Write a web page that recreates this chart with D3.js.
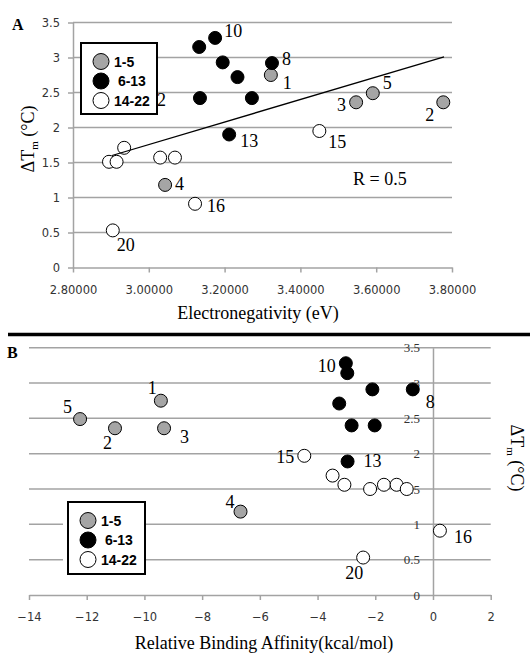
<!DOCTYPE html>
<html>
<head>
<meta charset="utf-8">
<script src="https://cdn.jsdelivr.net/npm/d3@7.9.0/dist/d3.min.js"></script>
<style>
  body { margin: 0; background: #fff; }
  svg { display: block; }
</style>
</head>
<body>
<script>
// ---- Panel A data: electronegativity (eV) vs dTm ----
const aGrayX = [3.322, 3.777, 3.547, 3.043, 3.591];
const aGrayY = [2.75, 2.36, 2.36, 1.18, 2.49];
const aGrayLab = ["1", "2", "3", "4", "5"];

const aBlackX = [3.325, 3.175, 3.133, 3.195, 3.234, 3.135, 3.272, 3.212];
const aBlackY = [2.92, 3.28, 3.15, 2.93, 2.72, 2.42, 2.42, 1.90];
const aBlackLab = ["8", "10", "", "", "", "12", "", "13"];

const aOpenX = [3.450, 2.935, 2.895, 2.915, 3.030, 3.069, 3.122, 2.905];
const aOpenY = [1.95, 1.71, 1.51, 1.51, 1.57, 1.57, 0.91, 0.53];
const aOpenLab = ["15", "", "", "", "", "", "16", "20"];

const trendX = [2.903, 3.779];
const trendY = [1.60, 3.01];

const aXTicks = [2.8, 3.0, 3.2, 3.4, 3.6, 3.8];
const aYTicks = [0, 0.5, 1, 1.5, 2, 2.5, 3, 3.5];

// ---- Panel B data: relative binding affinity (kcal/mol) vs dTm ----
const bGrayX = [-9.43, -11.02, -9.32, -6.67, -12.23];
const bGrayY = [2.75, 2.36, 2.36, 1.18, 2.49];
const bGrayLab = ["1", "2", "3", "4", "5"];

const bBlackX = [-0.70, -3.02, -2.97, -2.10, -3.25, -2.82, -2.02, -2.96];
const bBlackY = [2.91, 3.28, 3.14, 2.91, 2.71, 2.40, 2.40, 1.89];
const bBlackLab = ["8", "10", "", "", "", "", "", "13"];

const bOpenX = [-4.46, -3.48, -3.07, -2.18, -1.70, -1.26, -0.91, 0.24, -2.42];
const bOpenY = [1.97, 1.69, 1.56, 1.50, 1.56, 1.56, 1.50, 0.91, 0.53];
const bOpenLab = ["15", "", "", "", "", "", "", "16", "20"];

const bXTicks = [-14, -12, -10, -8, -6, -4, -2, 0, 2];
const bYTicks = [0, 0.5, 1, 1.5, 2, 2.5, 3, 3.5];

const legendNames = ["1-5", " 6-13", "14-22"];
const groupFill = ["#a5a5a5", "#000", "#fff"];

// label offsets (dx, dy) from the point centre
const offA = {"1": [12, 14], "2": [-18, 19], "3": [-19, 9], "4": [10, 5], "5": [10, -4],
  "8": [10, 2], "10": [9, -1], "12": [-52, 8], "13": [11, 12], "15": [9, 17], "16": [12, 8], "20": [4, 21]};
const offB = {"1": [-13, -7], "2": [-12, 21], "3": [16, 15], "4": [-15, -4], "5": [-17, -6],
  "8": [13, 19], "10": [-28, 9], "13": [16, 6], "15": [-28, 7], "16": [14, 12], "20": [-18, 21]};

const W = 530, H = 656;
const serif = "'Liberation Serif', 'Times New Roman', serif";
const sans = "'DejaVu Sans', sans-serif";
const gridColor = "#a3a3a3";

const svg = d3.select("body").append("svg")
  .attr("width", W)
  .attr("height", H);

function zip(xs, ys, labs) {
  return xs.map((x, i) => ({x: x, y: ys[i], lab: labs[i]}));
}

function drawPanel(opt) {
  const x = opt.x, y = opt.y;
  const g = svg.append("g");

  // gridlines
  g.selectAll("line.grid")
    .data(opt.yTicks.filter(d => d > 0))
    .enter().append("line")
    .attr("x1", x.range()[0]).attr("x2", x.range()[1])
    .attr("y1", d => y(d)).attr("y2", d => y(d))
    .attr("stroke", gridColor)
    .attr("stroke-width", 1.5);

  // x axis
  const xa = g.append("g")
    .attr("transform", `translate(0,${y(0)})`)
    .call(d3.axisBottom(x).tickValues(opt.xTicks).tickFormat(opt.xFmt)
      .tickSize(5).tickSizeOuter(0).tickPadding(13));
  xa.select(".domain").attr("stroke", gridColor).attr("stroke-width", 1.5);
  xa.selectAll(".tick line").attr("stroke", gridColor).attr("stroke-width", 1.5);
  xa.selectAll("text").attr("font-family", sans).attr("font-size", 11.5).attr("fill", "#333");

  // y axis
  const ya = g.append("g")
    .attr("transform", `translate(${x(opt.yAxisAt)},0)`)
    .call(d3.axisLeft(y).tickValues(opt.yTicks).tickFormat(d3.format("~g"))
      .tickSize(opt.yTickSize).tickSizeOuter(0).tickPadding(opt.yPad));
  ya.select(".domain").attr("stroke", gridColor).attr("stroke-width", 1.5);
  ya.selectAll(".tick line").attr("stroke", gridColor).attr("stroke-width", 1.5);
  ya.selectAll("text").attr("font-family", opt.yFont).attr("font-size", opt.yFontSize).attr("fill", "#333");

  return g;
}

function drawPoints(g, x, y, pts, fill) {
  g.append("g").selectAll("circle")
    .data(pts)
    .enter().append("circle")
    .attr("cx", d => x(d.x))
    .attr("cy", d => y(d.y))
    .attr("r", 6.5)
    .attr("fill", fill)
    .attr("stroke", "#000")
    .attr("stroke-width", 1);
}

function drawLabels(g, x, y, pts, off) {
  g.append("g").selectAll("text")
    .data(pts.filter(d => d.lab !== ""))
    .enter().append("text")
    .attr("x", d => x(d.x) + off[d.lab][0])
    .attr("y", d => y(d.y) + off[d.lab][1])
    .attr("font-family", serif)
    .attr("font-size", 18)
    .text(d => d.lab);
}

function drawLegend(g, left, top, w, h, padL, padR) {
  g.append("rect")
    .attr("x", left - padL).attr("y", top)
    .attr("width", w + padL + padR).attr("height", h)
    .attr("fill", "#fff");
  g.append("rect")
    .attr("x", left).attr("y", top)
    .attr("width", w).attr("height", h)
    .attr("fill", "#fff")
    .attr("stroke", "#000")
    .attr("stroke-width", 2);
  legendNames.forEach((name, i) => {
    const cy = top + 18.5 + i * 19.5;
    g.append("circle")
      .attr("cx", left + 20).attr("cy", cy).attr("r", 8)
      .attr("fill", groupFill[i]).attr("stroke", "#000").attr("stroke-width", 1);
    g.append("text")
      .attr("x", left + 33).attr("y", cy + 5)
      .attr("font-family", "'Liberation Sans', Arial, sans-serif")
      .attr("font-weight", "bold")
      .attr("font-size", 14)
      .attr("xml:space", "preserve")
      .style("white-space", "pre")
      .text(name);
  });
}

// ================= Panel A =================
const xA = d3.scaleLinear().domain([2.8, 3.8]).range([73, 452]);
const yA = d3.scaleLinear().domain([0, 3.5]).range([267.5, 22.5]);

const gA = drawPanel({x: xA, y: yA, xTicks: aXTicks, yTicks: aYTicks, xFmt: d3.format(".5f"),
  yAxisAt: 2.8, yTickSize: 5, yPad: 8, yFont: sans, yFontSize: 11.5});

const ptsAg = zip(aGrayX, aGrayY, aGrayLab);
const ptsAb = zip(aBlackX, aBlackY, aBlackLab);
const ptsAo = zip(aOpenX, aOpenY, aOpenLab);

drawPoints(gA, xA, yA, ptsAg, groupFill[0]);
drawPoints(gA, xA, yA, ptsAb, groupFill[1]);
drawPoints(gA, xA, yA, ptsAo, groupFill[2]);

// trend line
gA.append("line")
  .attr("x1", xA(trendX[0])).attr("y1", yA(trendY[0]))
  .attr("x2", xA(trendX[1])).attr("y2", yA(trendY[1]))
  .attr("stroke", "#000").attr("stroke-width", 1.3);

// labels first so the legend box hides most of "12"
drawLabels(gA, xA, yA, ptsAg, offA);
drawLabels(gA, xA, yA, ptsAb, offA);
drawLabels(gA, xA, yA, ptsAo, offA);

drawLegend(gA, 81, 43, 76, 71, 0, 0);

gA.append("text")
  .attr("x", 353).attr("y", 185)
  .attr("font-family", serif).attr("font-size", 18)
  .text("R = 0.5");

gA.append("text")
  .attr("x", 12).attr("y", 30)
  .attr("font-family", serif).attr("font-size", 16).attr("font-weight", "bold")
  .text("A");

const titleA = gA.append("text")
  .attr("transform", "translate(34,139) rotate(-90)")
  .attr("text-anchor", "middle")
  .attr("font-family", serif).attr("font-size", 18);
titleA.append("tspan").text("\u0394T");
titleA.append("tspan").attr("font-size", 11).attr("dy", 4).text("m");
titleA.append("tspan").attr("dy", -4).text(" (\u00B0C)");

gA.append("text")
  .attr("x", 258).attr("y", 319)
  .attr("text-anchor", "middle")
  .attr("font-family", serif).attr("font-size", 18)
  .text("Electronegativity (eV)");

// separator
svg.append("line")
  .attr("x1", 8).attr("x2", W)
  .attr("y1", 334.5).attr("y2", 334.5)
  .attr("stroke", "#000").attr("stroke-width", 3.5);

// ================= Panel B =================
const xB = d3.scaleLinear().domain([-14, 2]).range([29, 490.7]);
const yB = d3.scaleLinear().domain([0, 3.5]).range([595, 347.7]);

const gB = drawPanel({x: xB, y: yB, xTicks: bXTicks, yTicks: bYTicks, xFmt: d3.format("d"),
  yAxisAt: 0, yTickSize: 0, yPad: 13, yFont: serif, yFontSize: 13});

const ptsBg = zip(bGrayX, bGrayY, bGrayLab);
const ptsBb = zip(bBlackX, bBlackY, bBlackLab);
const ptsBo = zip(bOpenX, bOpenY, bOpenLab);

drawPoints(gB, xB, yB, ptsBg, groupFill[0]);
drawPoints(gB, xB, yB, ptsBb, groupFill[1]);
drawPoints(gB, xB, yB, ptsBo, groupFill[2]);

drawLegend(gB, 68, 502, 77, 72, 5, 0);

drawLabels(gB, xB, yB, ptsBg, offB);
drawLabels(gB, xB, yB, ptsBb, offB);
drawLabels(gB, xB, yB, ptsBo, offB);

gB.append("text")
  .attr("x", 7).attr("y", 358)
  .attr("font-family", serif).attr("font-size", 16).attr("font-weight", "bold")
  .text("B");

const titleB = gB.append("text")
  .attr("transform", "translate(511,458) rotate(90)")
  .attr("text-anchor", "middle")
  .attr("font-family", serif).attr("font-size", 18);
titleB.append("tspan").text("\u0394T");
titleB.append("tspan").attr("font-size", 11).attr("dy", 4).text("m");
titleB.append("tspan").attr("dy", -4).text(" (\u00B0C)");

gB.append("text")
  .attr("x", 264).attr("y", 649)
  .attr("text-anchor", "middle")
  .attr("font-family", serif).attr("font-size", 18)
  .text("Relative Binding Affinity(kcal/mol)");
</script>
</body>
</html>
